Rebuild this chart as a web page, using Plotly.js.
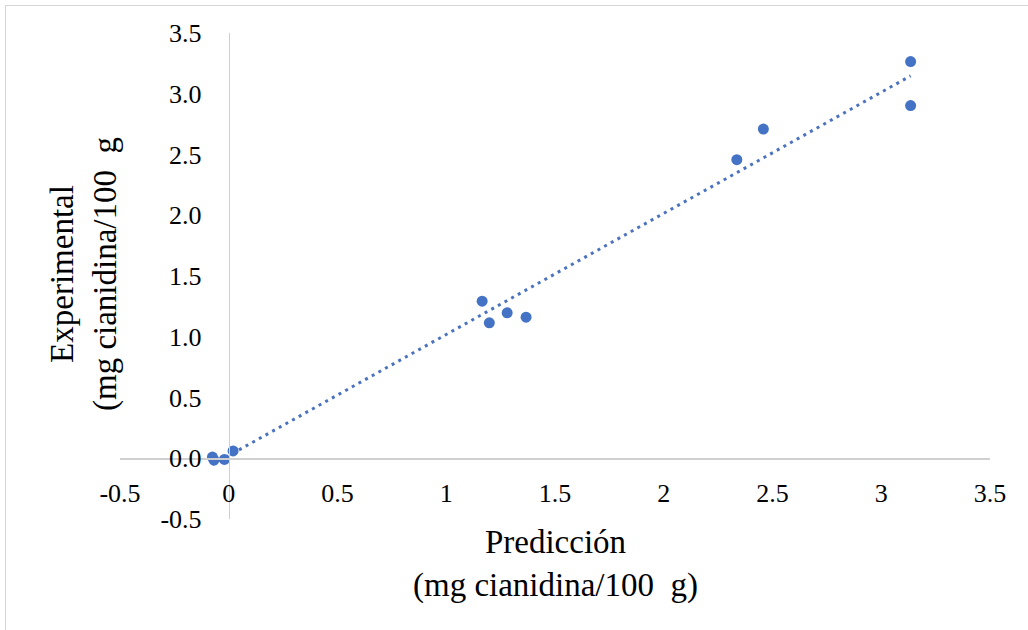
<!DOCTYPE html>
<html>
<head>
<meta charset="utf-8">
<script src="https://cdn.plot.ly/plotly-3.0.1.min.js"></script>
<style>
  html, body { margin: 0; padding: 0; background: #fff; }
  #wrap { position: relative; width: 1028px; height: 630px; overflow: hidden; }
  #frame { position: absolute; left: 5px; top: 5px; width: 1040px; height: 640px;
           border-left: 1.5px solid #d6d6d6; border-top: 1.5px solid #d6d6d6; pointer-events: none; }
  #chart { position: absolute; left: 0; top: 0; width: 1028px; height: 630px; }
</style>
</head>
<body>
<div id="wrap">
  <div id="chart"></div>
  <div id="frame"></div>
</div>
<script>
// ---- data ----
const predX = [-0.075, -0.068, -0.02, 0.02, 1.165, 1.198, 1.28, 1.367, 2.336, 2.458, 3.135, 3.135];
const expY  = [0.01, -0.015, -0.01, 0.06, 1.293, 1.115, 1.197, 1.161, 2.457, 2.709, 3.265, 2.903];

const xTickVals = [-0.5, 0, 0.5, 1, 1.5, 2, 2.5, 3, 3.5];
const xTickText = ['-0.5', '0', '0.5', '1', '1.5', '2', '2.5', '3', '3.5'];
const yTickVals = [-0.5, 0, 0.5, 1, 1.5, 2, 2.5, 3, 3.5];
const yTickText = ['-0.5', '0.0', '0.5', '1.0', '1.5', '2.0', '2.5', '3.0', '3.5'];

const xTitle = 'Predicción<br>(mg cianidina/100\u00a0\u00a0g)';
const yTitle = 'Experimental<br>(mg cianidina/100\u00a0\u00a0g';

const xRange = [-0.5, 3.5];
const yRange = [-0.5, 3.5];

// ---- linear trendline (least squares) ----
const n = predX.length;
const mx = predX.reduce((a, b) => a + b, 0) / n;
const my = expY.reduce((a, b) => a + b, 0) / n;
let sxy = 0, sxx = 0;
for (let i = 0; i < n; i++) { sxy += (predX[i] - mx) * (expY[i] - my); sxx += (predX[i] - mx) ** 2; }
const slope = sxy / sxx;
const icpt = my - slope * mx;
const xMin = Math.min(...predX), xMax = Math.max(...predX);
const trendX = [xMin, xMax];
const trendY = trendX.map(v => icpt + slope * v);

const blue = '#4472C4';
const font = 'Liberation Serif, Times New Roman, serif';

const traces = [
  { x: trendX, y: trendY, mode: 'lines', type: 'scatter', hoverinfo: 'skip',
    line: { color: '#4a72be', width: 3, dash: '3px,4.6px' } },
  { x: predX, y: expY, mode: 'markers', type: 'scatter',
    marker: { color: blue, size: 11 } }
];

const xPos = (0 - yRange[0]) / (yRange[1] - yRange[0]);
const yPos = (0 - xRange[0]) / (xRange[1] - xRange[0]);

const layout = {
  width: 1028, height: 630,
  margin: { l: 120, r: 38, t: 33, b: 111 },
  paper_bgcolor: '#fff', plot_bgcolor: 'rgba(0,0,0,0)',
  showlegend: false,
  font: { family: font, color: '#000' },
  xaxis: {
    range: xRange, anchor: 'free', position: xPos,
    tickvals: xTickVals, ticktext: xTickText,
    showgrid: false, zeroline: false,
    showline: true, linecolor: '#cfcfcf', linewidth: 1.5,
    ticks: '', ticklabelstandoff: 11,
    tickfont: { family: font, size: 26, color: '#000' }
  },
  yaxis: {
    range: yRange, anchor: 'free', position: yPos,
    tickvals: yTickVals, ticktext: yTickText,
    showgrid: false, zeroline: false,
    showline: true, linecolor: '#cfcfcf', linewidth: 1.5,
    ticks: '', ticklabelstandoff: 22,
    tickfont: { family: font, size: 26, color: '#000' }
  },
  annotations: [
    { text: xTitle, xref: 'paper', yref: 'paper', x: 0.5, y: (519 - 564) / 486,
      xanchor: 'center', yanchor: 'middle', showarrow: false,
      font: { family: font, size: 33, color: '#000' } },
    { text: yTitle, xref: 'paper', yref: 'paper', x: (84 - 120) / 870, y: (519 - 274) / 486,
      xanchor: 'center', yanchor: 'middle', showarrow: false, textangle: -90,
      font: { family: font, size: 33, color: '#000' } }
  ]
};

Plotly.newPlot('chart', traces, layout, { displayModeBar: false, staticPlot: true });
</script>
</body>
</html>
